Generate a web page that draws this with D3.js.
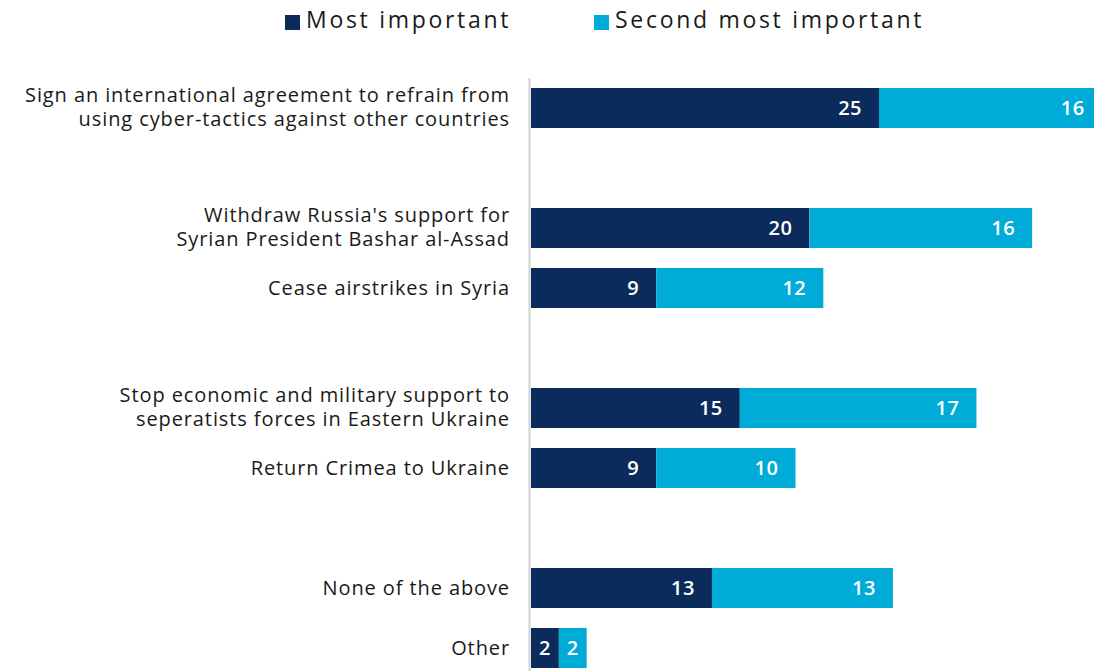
<!DOCTYPE html>
<html>
<head>
<meta charset="utf-8">
<script src="https://cdn.jsdelivr.net/npm/d3@7"></script>
<style>
  body { margin: 0; background: #fff; }
  text { font-family: "Open Sans", "Noto Sans", sans-serif; }
</style>
</head>
<body>
<div id="chart"></div>
<script>
// data ("" rows are blank spacer rows)
var categories = [
  ["Sign an international agreement to refrain from", "using cyber-tactics against other countries"],
  [""],
  ["Withdraw Russia's support for", "Syrian President Bashar al-Assad"],
  ["Cease airstrikes in Syria"],
  [""],
  ["Stop economic and military support to", "seperatists forces in Eastern Ukraine"],
  ["Return Crimea to Ukraine"],
  [""],
  ["None of the above"],
  ["Other"]
];
var mostImportant = [25, null, 20, 9, null, 15, 9, null, 13, 2];
var secondImportant = [16, null, 16, 12, null, 17, 10, null, 13, 2];
var seriesNames = ["Most important", "Second most important"];
var colors = ["#0b2b5c", "#00acd7"];

var width = 1094, height = 671;

var svg = d3.select("#chart")
  .append("svg")
  .attr("width", width)
  .attr("height", height);

var x = d3.scaleLinear()
  .domain([0, 41])
  .range([531, 531 + 41 * 13.92]);

var y = d3.scaleBand()
  .domain(d3.range(categories.length))
  .range([78, 678])
  .paddingInner(1 / 3)
  .paddingOuter(1 / 6);

// axis line
svg.append("line")
  .attr("x1", 529.5).attr("x2", 529.5)
  .attr("y1", 78).attr("y2", height)
  .attr("stroke", "#d0d0d0")
  .attr("stroke-width", 2);

var rows = d3.range(categories.length).filter(function(i) { return mostImportant[i] != null; });

rows.forEach(function(i) {
  var segs = [
    { x0: 0, x1: mostImportant[i], c: colors[0], v: mostImportant[i] },
    { x0: mostImportant[i], x1: mostImportant[i] + secondImportant[i], c: colors[1], v: secondImportant[i] }
  ];
  segs.forEach(function(s) {
    svg.append("rect")
      .attr("x", x(s.x0))
      .attr("y", y(i))
      .attr("width", x(s.x1) - x(s.x0))
      .attr("height", y.bandwidth())
      .attr("fill", s.c);
    var small = s.v < 5;
    svg.append("text")
      .attr("x", small ? (x(s.x0) + x(s.x1)) / 2 : x(s.x1) - 17)
      .attr("y", y(i) + y.bandwidth() / 2)
      .attr("dy", "0.36em")
      .attr("text-anchor", small ? "middle" : "end")
      .attr("fill", "#fff")
      .style("font-size", "20px")
      .style("font-weight", 600)
      .style("letter-spacing", "0.5px")
      .text(s.v);
  });

  // category label, one text per line
  var lines = categories[i];
  var cy = y(i) + y.bandwidth() / 2 - (lines.length > 1 ? 1 : 0);
  lines.forEach(function(l, k) {
    svg.append("text")
      .attr("x", 510)
      .attr("y", cy + (k - (lines.length - 1) / 2) * 24)
      .attr("dy", "0.35em")
      .attr("text-anchor", "end")
      .attr("fill", "#1a1a1a")
      .style("font-size", "20px")
      .style("letter-spacing", "0.9px")
      .text(l);
  });
});

// legend
var legendX = [285, 594];
seriesNames.forEach(function(n, k) {
  svg.append("rect")
    .attr("x", legendX[k])
    .attr("y", 15)
    .attr("width", 15)
    .attr("height", 15)
    .attr("fill", colors[k]);
  svg.append("text")
    .attr("x", legendX[k] + 21)
    .attr("y", 28)
    .attr("fill", "#1a1a1a")
    .style("font-size", "23px")
    .style("letter-spacing", "2.7px")
    .text(n);
});
</script>
</body>
</html>
